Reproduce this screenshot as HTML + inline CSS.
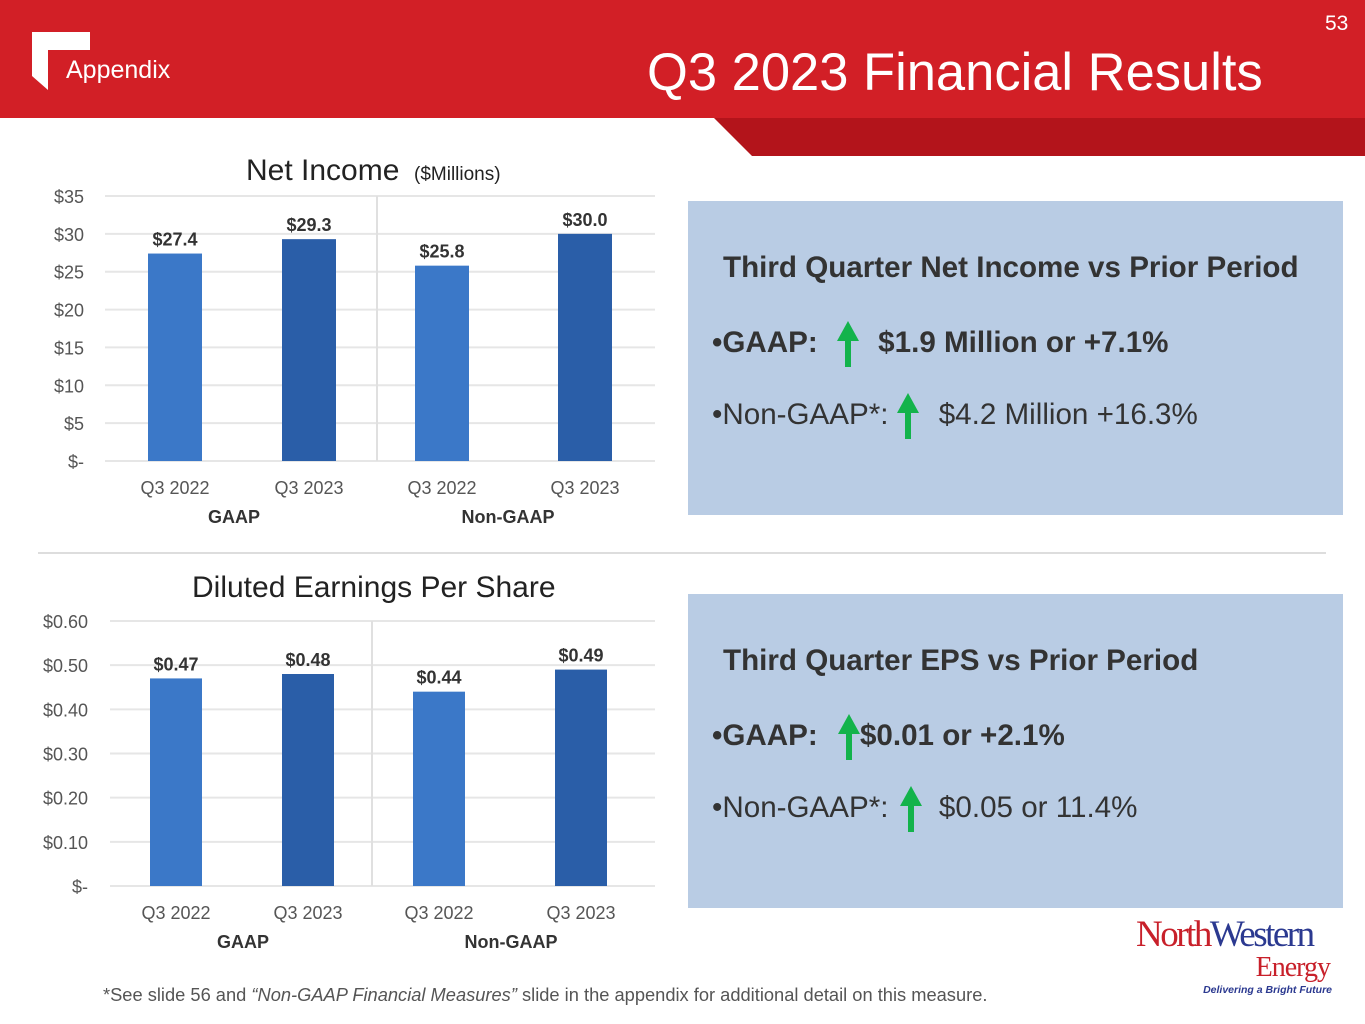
<!DOCTYPE html>
<html><head><meta charset="utf-8"><style>
body{margin:0;width:1365px;height:1024px;position:relative;overflow:hidden;background:#fff;font-family:"Liberation Sans",Arial,sans-serif;}
.abs{position:absolute;}
.panel{position:absolute;background:#b9cce4;color:#333;}
.panel .t{position:absolute;font-weight:bold;font-size:29.6px;white-space:nowrap;}
.arrow{display:inline-block;vertical-align:middle;}
</style></head><body>
<svg class="abs" style="left:0;top:0" width="1365" height="160">
<rect x="0" y="0" width="1365" height="118" fill="#d21f26"/>
<polygon points="714,118 1365,118 1365,156 752,156" fill="#b3141b"/>
<polygon points="32,32 90,32 90,50 48,50 48,90 32,76" fill="#fff"/>
</svg>
<div class="abs" style="left:66px;top:56px;color:#fff;font-size:25px">Appendix</div>
<div class="abs" style="left:647px;top:42px;color:#fff;font-size:52.5px">Q3 2023 Financial Results</div>
<div class="abs" style="left:1325px;top:12px;color:#fff;font-size:21px">53</div>
<div class="abs" style="left:38px;top:552px;width:1288px;height:2px;background:#ddd"></div>

<svg id="charts" class="abs" style="left:0;top:0" width="690" height="960" font-family="Liberation Sans, Arial, sans-serif"></svg>

<div class="panel" style="left:688px;top:201px;width:655px;height:314px">
<div class="t" style="left:35px;top:50px">Third Quarter Net Income vs Prior Period</div>
<div class="t" style="left:24px;top:120px">•GAAP: <svg class="arrow" width="44" height="46"><polygon points="22,0 33,20 25,20 25,46 19,46 19,20 11,20" fill="#13b34b"/></svg> $1.9 Million or +7.1%</div>
<div class="t" style="left:24px;top:192px;font-weight:normal">•Non-GAAP*:<svg class="arrow" width="42" height="46"><polygon points="20,0 31,20 23,20 23,46 17,46 17,20 9,20" fill="#13b34b"/></svg> $4.2 Million +16.3%</div>
</div>
<div class="panel" style="left:688px;top:594px;width:655px;height:314px">
<div class="t" style="left:35px;top:50px">Third Quarter EPS vs Prior Period</div>
<div class="t" style="left:24px;top:120px">•GAAP: <svg class="arrow" width="34" height="46"><polygon points="23,0 34,20 26,20 26,46 20,46 20,20 12,20" fill="#13b34b"/></svg>$0.01 or +2.1%</div>
<div class="t" style="left:24px;top:192px;font-weight:normal">•Non-GAAP*: <svg class="arrow" width="34" height="46"><polygon points="14,0 25,20 17,20 17,46 11,46 11,20 3,20" fill="#13b34b"/></svg> $0.05 or 11.4%</div>
</div>

<div class="abs" style="left:103px;top:984px;font-size:18.3px;color:#555">*See slide 56 and <i>“Non-GAAP Financial Measures”</i> slide in the appendix for additional detail on this measure.</div>
<div class="abs" style="left:1136px;top:916px;width:200px;font-family:'Liberation Serif',serif">
<div style="font-size:37px;letter-spacing:-2.5px;line-height:38px"><span style="color:#c8202a">North</span><span style="color:#2b3990">Western</span></div>
<div style="font-size:28px;color:#c8202a;text-align:right;padding-right:6px;line-height:28px;letter-spacing:-1px">Energy</div>
<div style="font-family:'Liberation Sans',sans-serif;font-size:10.5px;font-weight:bold;font-style:italic;color:#2b3990;text-align:right;padding-right:4px;margin-top:2px">Delivering a Bright Future</div>
</div>

<script>
const categories=["Q3 2022","Q3 2023","Q3 2022","Q3 2023"];
const groups=["GAAP","Non-GAAP"];
const netIncome=[27.4,29.3,25.8,30.0];
const netIncomeLabels=["$27.4","$29.3","$25.8","$30.0"];
const netTicks=[0,5,10,15,20,25,30,35];
const netTickLabels=["$-","$5","$10","$15","$20","$25","$30","$35"];
const eps=[0.47,0.48,0.44,0.49];
const epsLabels=["$0.47","$0.48","$0.44","$0.49"];
const epsTicks=[0,0.1,0.2,0.3,0.4,0.5,0.6];
const epsTickLabels=["$-","$0.10","$0.20","$0.30","$0.40","$0.50","$0.60"];

const svg=document.getElementById('charts');
const NS='http://www.w3.org/2000/svg';
function mk(tag,attrs,text){const e=document.createElementNS(NS,tag);for(const k in attrs)e.setAttribute(k,attrs[k]);if(text!=null)e.textContent=text;svg.appendChild(e);return e;}
const colors=["#3b78c8","#2a5ea8","#3b78c8","#2a5ea8"];
function chart(o){
  const y=v=>o.y0-(v/o.max)*(o.y0-o.yTop);
  const t=mk('text',{x:o.titleX,y:o.titleY,'font-size':30,fill:'#222'},o.title);
  
  
  o.ticks.forEach((v,i)=>{
    const g=mk('line',{x1:o.x0,x2:o.x1,y1:y(v),y2:y(v),stroke:'#e6e6e6','stroke-width':2});
    
    
    const l=mk('text',{x:o.labelX,y:y(v)+7,'font-size':18,fill:'#555','text-anchor':'end'},o.tickLabels[i]);
    
    
  });
  mk('line',{x1:o.divX,x2:o.divX,y1:o.yTop,y2:o.y0,stroke:'#e0e0e0','stroke-width':2});
  o.values.forEach((v,i)=>{
    const cx=o.centers[i];
    const r=mk('rect',{x:cx-o.bw/2,y:y(v),width:o.bw,height:o.y0-y(v),fill:colors[i]});
    
    
    const vl=mk('text',{x:cx,y:y(v)-8,'font-size':18,'font-weight':'bold',fill:'#333','text-anchor':'middle'},o.valueLabels[i]);
    
    
    const cl=mk('text',{x:cx,y:o.y0+33,'font-size':18,fill:'#555','text-anchor':'middle'},categories[i]);
    
    
  });
  groups.forEach((g,i)=>{
    const gl=mk('text',{x:o.groupX[i],y:o.y0+62,'font-size':18,'font-weight':'bold',fill:'#333','text-anchor':'middle'},g);
    
    
  });
}
chart({prefix:'net-income',title:'Net Income',titleX:246,titleY:180,y0:461,yTop:196,max:35,x0:105,x1:655,labelX:84,divX:377,
  centers:[175,309,442,585],bw:54,values:netIncome,valueLabels:netIncomeLabels,ticks:netTicks,tickLabels:netTickLabels,groupX:[234,508]});
mk('text',{x:414,y:180,'font-size':19,fill:'#222'},'($Millions)');
chart({prefix:'eps',title:'Diluted Earnings Per Share',titleX:192,titleY:597,y0:886,yTop:621,max:0.6,x0:110,x1:655,labelX:88,divX:372,
  centers:[176,308,439,581],bw:52,values:eps,valueLabels:epsLabels,ticks:epsTicks,tickLabels:epsTickLabels,groupX:[243,511]});
</script>
</body></html>
